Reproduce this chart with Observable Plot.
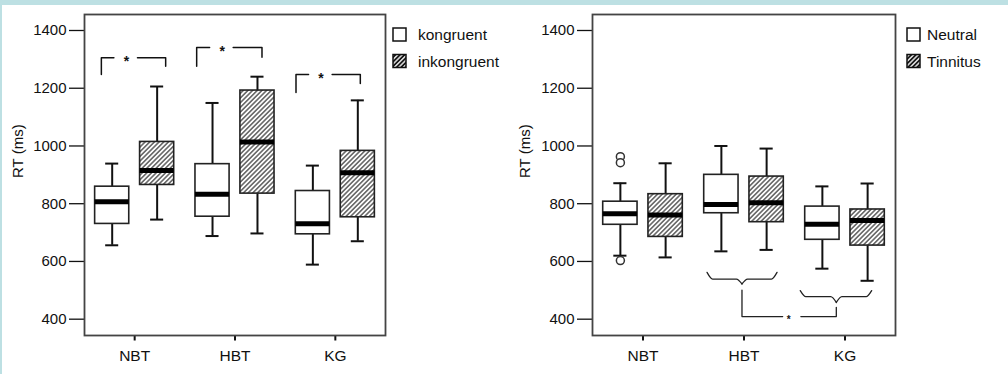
<!DOCTYPE html>
<html><head><meta charset="utf-8">
<script src="https://cdn.jsdelivr.net/npm/d3@7"></script>
<script src="https://cdn.jsdelivr.net/npm/@observablehq/plot@0.6"></script>
<style>
html,body{margin:0;padding:0;}
body{width:1008px;height:374px;background:#bde0e3;position:relative;overflow:hidden;font-family:"Liberation Sans",Arial,sans-serif;}
#page{position:absolute;left:2px;top:5px;width:1006px;height:369px;background:#fff;}
.panel{position:absolute;top:0;width:504px;height:374px;}
.panel svg text{font-family:"Liberation Sans",Arial,sans-serif;}
#legend{position:absolute;left:0;top:0;}
</style></head><body>
<div id="page"></div>
<svg width="0" height="0" style="position:absolute;left:0;top:0">
<defs>
<pattern id="hatch" patternUnits="userSpaceOnUse" width="3.3" height="3.3" patternTransform="rotate(45)">
<rect width="3.3" height="3.3" fill="#fff"/><line x1="1.65" y1="-1" x2="1.65" y2="4.3" stroke="#444" stroke-width="1.3"/></pattern>
<pattern id="hatchLegend" patternUnits="userSpaceOnUse" width="3.2" height="3.2" patternTransform="rotate(45)">
<rect width="3.2" height="3.2" fill="#fff"/><line x1="1.6" y1="-1" x2="1.6" y2="4.2" stroke="#111" stroke-width="1.9"/></pattern>
</defs></svg>
<div id="left" class="panel" style="left:0"></div>
<div id="right" class="panel" style="left:504px"></div>
<svg id="legend" width="1008" height="374"></svg>
<script>
const groups = ["NBT", "HBT", "KG"];
const yTicks = [400, 600, 800, 1000, 1200, 1400];
const leftNames = ["kongruent", "inkongruent"];
const rightNames = ["Neutral", "Tinnitus"];
// [lower whisker, Q1, median, Q3, upper whisker] for NBT, HBT, KG
const kongruent   = [[656, 730, 807, 859, 939], [688, 755, 833, 937, 1149], [589, 694, 731, 844, 932]];
const inkongruent = [[745, 865, 915, 1014, 1206], [697, 835, 1014, 1192, 1240], [670, 753, 907, 983, 1158]];
const neutral     = [[620, 727, 765, 807, 871], [635, 767, 797, 900, 1000], [575, 675, 729, 790, 860]];
const tinnitus    = [[614, 685, 761, 833, 940], [640, 736, 803, 894, 991], [533, 655, 742, 780, 870]];
const neutralOutliers = [{group: "NBT", value: 963}, {group: "NBT", value: 942}, {group: "NBT", value: 603}];
// significance brackets (left panel), in data units
const leftBrackets = [
  {group: "NBT", x1: -0.332, x2: 0.309, top: 1306, left: 1248, right: 1276},
  {group: "HBT", x1: -0.382, x2: 0.269, top: 1341, left: 1276, right: 1307},
  {group: "KG",  x1: -0.392, x2: 0.249, top: 1248, left: 1185, right: 1216}
];
// braces (right panel)
const braces = [
  {group: "HBT", x1: -0.366, x2: 0.327, xc: -0.02, yEnd: 562, yMid: 539, yTip: 522, link: 501},
  {group: "KG",  x1: -0.443, x2: 0.264, xc: -0.086, yEnd: 499, yMid: 478, yTip: 458, link: 441}
];
const braceLinkY = 409;
const braceStarX = 1.443;

const OFF = 0.224, HALF = 0.17, CAP = 0.065;
const gi = g => groups.indexOf(g);

function makeRows(series, names) {
  const rows = [];
  series.forEach((s, si) => s.forEach((v, g) => {
    const xc = g + (si === 0 ? -OFF : OFF);
    rows.push({group: groups[g], series: names[si], si, xc, x1: xc - HALF, x2: xc + HALF, c1: xc - CAP, c2: xc + CAP,
      low: v[0], q1: v[1], med: v[2], q3: v[3], high: v[4]});
  }));
  return rows;
}

function panel({series, names, marginLeft, marginRight, labelDx, extra}) {
  const rows = makeRows(series, names);
  const ink = "#111";
  return Plot.plot({
    width: 504, height: 374, marginLeft, marginRight, marginTop: 14, marginBottom: 39,
    x: {domain: [-0.5, 2.5]},
    y: {domain: [343.5, 1455.4]},
    style: {fontFamily: "'Liberation Sans', Arial, sans-serif", fontSize: "15px", color: "#111", background: "transparent", overflow: "visible"},
    marks: [
      Plot.axisY({ticks: yTicks, tickFormat: d => String(d), tickSize: 15, tickPadding: 3, label: null, strokeWidth: 1.3, fontSize: 15}),
      Plot.axisX({ticks: [0, 1, 2], tickFormat: i => groups[i], tickSize: 5.5, tickPadding: 9, label: null, fontSize: 15.5, strokeWidth: 2}),
      Plot.text(["RT (ms)"], {text: d => d, y: [982], frameAnchor: "left", dx: labelDx, rotate: -90, textAnchor: "middle", lineAnchor: "middle", fontSize: 15, fill: "#111"}),
      Plot.frame({stroke: "#444", strokeWidth: 1.8}),
      Plot.ruleX(rows, {x: "xc", y1: "low", y2: "q1", stroke: ink, strokeWidth: 2}),
      Plot.ruleX(rows, {x: "xc", y1: "q3", y2: "high", stroke: ink, strokeWidth: 2}),
      Plot.ruleY(rows, {y: "low", x1: "c1", x2: "c2", stroke: ink, strokeWidth: 2}),
      Plot.ruleY(rows, {y: "high", x1: "c1", x2: "c2", stroke: ink, strokeWidth: 2}),
      Plot.rect(rows.filter(d => d.si === 0), {x1: "x1", x2: "x2", y1: "q1", y2: "q3", fill: "#fff", stroke: "#222", strokeWidth: 1.6}),
      Plot.rect(rows.filter(d => d.si === 1), {x1: "x1", x2: "x2", y1: "q1", y2: "q3", fill: "url(#hatch)", stroke: "#222", strokeWidth: 1.6}),
      Plot.ruleY(rows, {y: "med", x1: "x1", x2: "x2", stroke: "#000", strokeWidth: 5}),
      ...extra
    ]
  });
}

// left annotations
const bracketPts = [];
const bracketStars = [];
leftBrackets.forEach((b, i) => {
  const c = gi(b.group);
  const s = c + b.x1 + 0.39 * (b.x2 - b.x1);
  bracketPts.push({z: i + "a", x: c + b.x1, y: b.left}, {z: i + "a", x: c + b.x1, y: b.top}, {z: i + "a", x: s - 0.125, y: b.top});
  bracketPts.push({z: i + "b", x: s + 0.11, y: b.top}, {z: i + "b", x: c + b.x2, y: b.top}, {z: i + "b", x: c + b.x2, y: b.right});
  bracketStars.push({x: s, y: b.top});
});
const leftExtra = [
  Plot.line(bracketPts, {x: "x", y: "y", z: "z", stroke: "#111", strokeWidth: 1.5}),
  Plot.text(bracketStars, {x: "x", y: "y", text: () => "*", fontSize: 14, fontWeight: "bold", dy: 4, fill: "#111"})
];

// right annotations
const bracePts = [];
const r = 0.055;
braces.forEach((b, i) => {
  const c = gi(b.group);
  const x1 = c + b.x1, x2 = c + b.x2, xc = c + b.xc;
  bracePts.push({z: i + "l", x: x1, y: b.yEnd}, {z: i + "l", x: x1 + r, y: b.yMid}, {z: i + "l", x: xc - r, y: b.yMid}, {z: i + "l", x: xc, y: b.yTip});
  bracePts.push({z: i + "r", x: xc, y: b.yTip}, {z: i + "r", x: xc + r, y: b.yMid}, {z: i + "r", x: x2 - r, y: b.yMid}, {z: i + "r", x: x2, y: b.yEnd});
});
const b0 = braces[0], b1 = braces[1];
const linkPts = [
  {z: "a", x: gi(b0.group) + b0.xc, y: b0.link}, {z: "a", x: gi(b0.group) + b0.xc, y: braceLinkY}, {z: "a", x: braceStarX - 0.06, y: braceLinkY},
  {z: "b", x: braceStarX + 0.12, y: braceLinkY}, {z: "b", x: gi(b1.group) + b1.xc, y: braceLinkY}, {z: "b", x: gi(b1.group) + b1.xc, y: b1.link}
];
const rightExtra = [
  Plot.dot(neutralOutliers, {x: d => gi(d.group) - OFF, y: "value", r: 4, stroke: "#333", fill: "#fff", strokeWidth: 1.5}),
  Plot.line(bracePts, {x: "x", y: "y", z: "z", curve: "monotone-x", stroke: "#222", strokeWidth: 1.3}),
  Plot.line(linkPts, {x: "x", y: "y", z: "z", stroke: "#222", strokeWidth: 1.3}),
  Plot.text([{x: braceStarX, y: braceLinkY}], {x: "x", y: "y", text: () => "*", fontSize: 10, fontWeight: "bold", dy: 3, fill: "#111"})
];

document.getElementById("left").append(panel({series: [kongruent, inkongruent], names: leftNames, marginLeft: 84, marginRight: 119, labelDx: -66, extra: leftExtra}));
document.getElementById("right").append(panel({series: [neutral, tinnitus], names: rightNames, marginLeft: 88, marginRight: 113, labelDx: -67, extra: rightExtra}));

// legends
const lg = d3.select("#legend");
function legend(x, tx, names) {
  names.forEach((n, i) => {
    lg.append("rect").attr("x", x).attr("y", 28 + i * 26.5).attr("width", 13).attr("height", 13)
      .attr("fill", i ? "url(#hatchLegend)" : "#fff").attr("stroke", "#111").attr("stroke-width", 1.5);
    lg.append("text").attr("x", tx).attr("y", 40 + i * 26.5).text(n)
      .attr("font-family", "Liberation Sans, Arial, sans-serif").attr("font-size", 15.5).attr("fill", "#111");
  });
}
legend(393, 418, leftNames);
legend(907, 927, rightNames);
</script>
</body></html>
